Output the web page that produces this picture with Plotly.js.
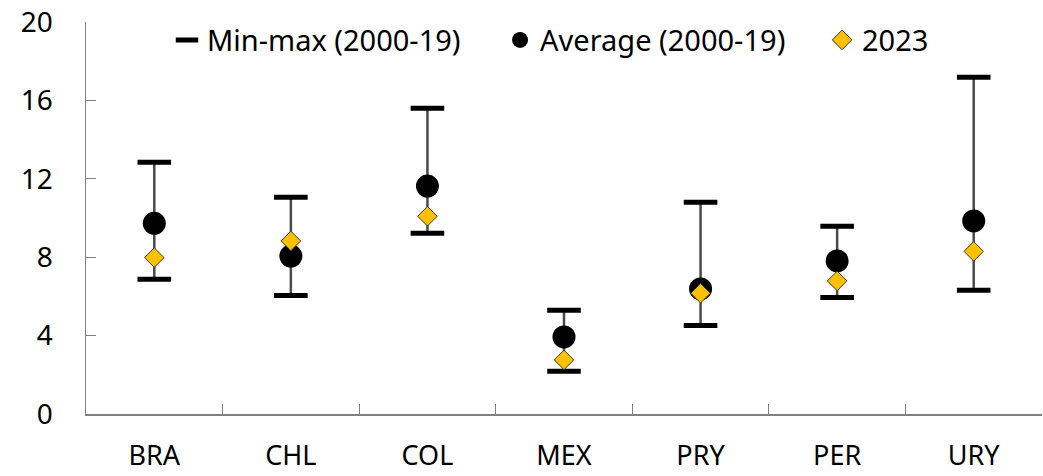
<!DOCTYPE html>
<html>
<head>
<meta charset="utf-8">
<script src="https://cdn.plot.ly/plotly-3.0.1.min.js"></script>
<style>html,body{margin:0;padding:0;background:#fff;}#chart{width:1043px;height:476px;}</style>
</head>
<body>
<div id="chart"></div>
<script>
const categories = ["BRA", "CHL", "COL", "MEX", "PRY", "PER", "URY"];
const minVals = [6.87, 6.05, 9.22, 2.18, 4.52, 5.95, 6.31];
const maxVals = [12.85, 11.06, 15.6, 5.29, 10.8, 9.58, 17.18];
const avgVals = [9.73, 8.06, 11.63, 3.93, 6.38, 7.81, 9.85];
const val2023 = [7.98, 8.83, 10.09, 2.76, 6.16, 6.79, 8.3];
const yTicks = [0, 4, 8, 12, 16, 20];

const FONT = "'Noto Sans', 'Open Sans', sans-serif";

const traces = [
  {
    x: categories, y: avgVals, type: "scatter", mode: "markers",
    name: "Average (2000-19)", legend: "legend2",
    marker: {symbol: "circle", size: 23, color: "#000000"},
    error_y: {
      type: "data", symmetric: false,
      array: maxVals.map((v, i) => v - avgVals[i]),
      arrayminus: avgVals.map((v, i) => v - minVals[i]),
      width: 0, thickness: 2.5, color: "#4a4a4a"
    }
  },
  {
    x: categories, y: maxVals, type: "scatter", mode: "markers",
    name: "Min-max (2000-19)", legend: "legend", legendgroup: "mm",
    marker: {symbol: "line-ew", size: 24, line: {width: 5, color: "#000000"}}
  },
  {
    x: categories, y: minVals, type: "scatter", mode: "markers",
    name: "Min-max (2000-19)", showlegend: false, legend: "legend", legendgroup: "mm",
    marker: {symbol: "line-ew", size: 24, line: {width: 5, color: "#000000"}}
  },
  {
    x: categories, y: val2023, type: "scatter", mode: "markers",
    name: "2023", legend: "legend3",
    marker: {symbol: "diamond", size: 15, color: "#FFC000", line: {width: 1, color: "#3a3a3a"}}
  }
];

function leg(x) {
  return {
    orientation: "h", x: x, xanchor: "left", y: 0.954, yanchor: "middle",
    font: {family: FONT, size: 29, color: "#000000"},
    bgcolor: "rgba(0,0,0,0)", itemsizing: "trace"
  };
}

const layout = {
  width: 1043, height: 476,
  margin: {l: 86, r: 1, t: 22, b: 62},
  paper_bgcolor: "#ffffff", plot_bgcolor: "#ffffff",
  font: {family: FONT, size: 28, color: "#000000"},
  showlegend: true,
  legend: leg(0.0847),
  legend2: leg(0.4331),
  legend3: leg(0.7699),
  xaxis: {
    type: "category", categoryorder: "array", categoryarray: categories,
    range: [-0.5, 6.5], tickson: "boundaries",
    showline: true, linecolor: "#808080", linewidth: 1.5,
    ticks: "inside", ticklen: 10, tickcolor: "#808080", tickwidth: 1,
    showgrid: false, zeroline: false, fixedrange: true,
    tickfont: {family: FONT, size: 27, color: "#000000"},
    ticklabelstandoff: 17
  },
  yaxis: {
    range: [0, 20], tickvals: yTicks, ticktext: yTicks.map(String),
    showline: true, linecolor: "#808080", linewidth: 1.5,
    ticks: "inside", ticklen: 10, tickcolor: "#808080", tickwidth: 1,
    showgrid: false, zeroline: false, fixedrange: true,
    tickfont: {family: FONT, size: 28, color: "#000000"},
    ticklabelstandoff: 26
  }
};

Plotly.newPlot("chart", traces, layout, {staticPlot: true, displayModeBar: false});
</script>
</body>
</html>
